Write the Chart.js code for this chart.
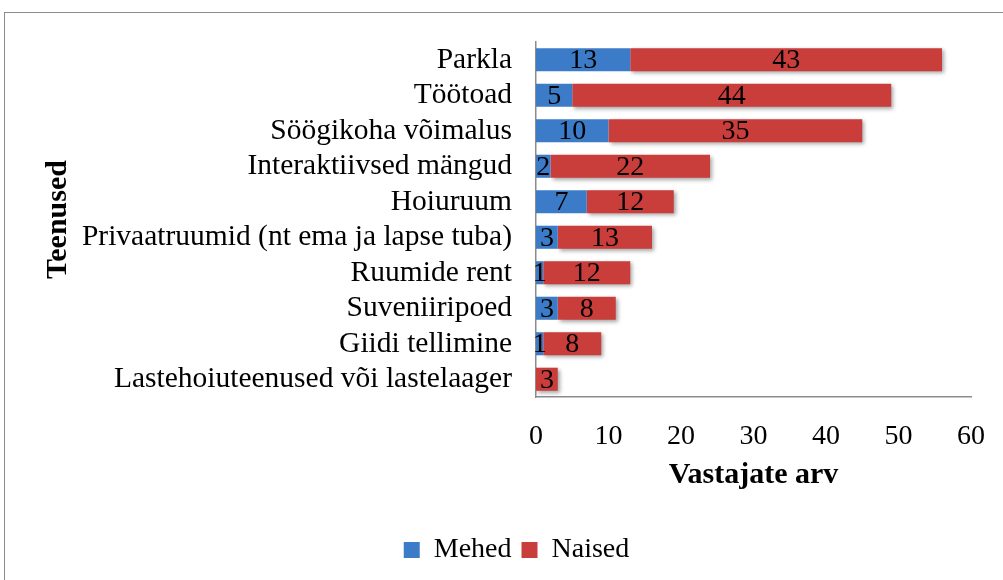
<!DOCTYPE html>
<html>
<head>
<meta charset="utf-8">
<script src="https://cdn.jsdelivr.net/npm/chart.js@4"></script>
<style>
  html, body { margin: 0; padding: 0; background: #fff; overflow: hidden; }
  #wrap { position: relative; width: 1003px; height: 580px; }
  #frame { position: absolute; left: 4px; top: 12px; width: 1020px; height: 600px; border: 1px solid #8c8c8c; }
</style>
</head>
<body>
<div id="wrap">
  <div id="frame"></div>
  <canvas id="servicesChart" width="1003" height="580"></canvas>
</div>
<script>
var categories = ["Parkla", "Töötoad", "Söögikoha võimalus", "Interaktiivsed mängud", "Hoiuruum",
  "Privaatruumid (nt ema ja lapse tuba)", "Ruumide rent", "Suveniiripoed", "Giidi tellimine",
  "Lastehoiuteenused või lastelaager"];
var mehed = [13, 5, 10, 2, 7, 3, 1, 3, 1, 0];
var naised = [43, 44, 35, 22, 12, 13, 12, 8, 8, 3];
var xTicks = [0, 10, 20, 30, 40, 50, 60];

var serif = "'Liberation Serif', 'Times New Roman', serif";

// value labels in the middle of every bar segment
var barLabels = {
  id: "barLabels",
  afterDatasetsDraw: function(chart) {
    var ctx = chart.ctx;
    ctx.save();
    ctx.font = "28px " + serif;
    ctx.fillStyle = "#000";
    ctx.textAlign = "center";
    ctx.textBaseline = "middle";
    chart.data.datasets.forEach(function(ds, i) {
      chart.getDatasetMeta(i).data.forEach(function(bar, j) {
        if (!ds.data[j]) return;
        var p = bar.getProps(["x", "y", "base"], true);
        ctx.fillText(ds.data[j], (p.x + p.base) / 2, p.y + 1);
      });
    });
    ctx.restore();
  }
};

// soft shadow under the red bars
var barShadow = {
  id: "barShadow",
  beforeDatasetDraw: function(chart, args) {
    if (args.index !== 1) return;
    var ctx = chart.ctx;
    ctx.save();
    ctx.shadowColor = "rgba(0,0,0,0.35)";
    ctx.shadowBlur = 4;
    ctx.shadowOffsetX = 2;
    ctx.shadowOffsetY = 2;
  },
  afterDatasetDraw: function(chart, args) {
    if (args.index !== 1) return;
    chart.ctx.restore();
  }
};

new Chart("servicesChart", {
  type: "bar",
  data: {
    labels: categories,
    datasets: [{
      label: "Mehed",
      data: mehed,
      backgroundColor: "#3b7bc8",
      barPercentage: 0.65,
      categoryPercentage: 1
    }, {
      label: "Naised",
      data: naised,
      backgroundColor: "#c93d3b",
      barPercentage: 0.65,
      categoryPercentage: 1
    }]
  },
  options: {
    indexAxis: "y",
    responsive: false,
    animation: false,
    layout: {
      padding: { top: 42, left: 62, right: 32, bottom: 6 }
    },
    plugins: {
      legend: {
        position: "bottom",
        labels: {
          font: { family: serif, size: 28 },
          color: "#000",
          boxWidth: 16,
          boxHeight: 16,
          padding: 10
        }
      },
      tooltip: { enabled: false }
    },
    scales: {
      x: {
        stacked: true,
        min: 0,
        max: 60,
        afterBuildTicks: function(scale) {
          scale.ticks = xTicks.map(function(v) { return { value: v }; });
        },
        afterFit: function(scale) {
          scale.height = 129;
          scale.paddingLeft = 0;
          scale.paddingRight = 0;
        },
        grid: { display: false, drawTicks: false },
        border: { display: true, color: "#8c8c8c", width: 1.5 },
        ticks: {
          font: { family: serif, size: 28 },
          color: "#000",
          padding: 23,
          maxRotation: 0
        },
        title: {
          display: true,
          text: "Vastajate arv",
          font: { family: serif, size: 30, weight: "bold" },
          color: "#000",
          padding: { top: 0, bottom: 33 }
        }
      },
      y: {
        stacked: true,
        afterFit: function(scale) { scale.width = 474; },
        grid: { display: false, drawTicks: false },
        border: { display: true, color: "#8c8c8c", width: 1.5 },
        ticks: {
          font: { family: serif, size: 29.5 },
          color: "#000",
          padding: 24,
          autoSkip: false
        },
        title: {
          display: true,
          text: "Teenused",
          font: { family: serif, size: 30, weight: "bold" },
          color: "#000",
          padding: { top: -22, bottom: 0 }
        }
      }
    }
  },
  plugins: [barShadow, barLabels]
});
</script>
</body>
</html>
